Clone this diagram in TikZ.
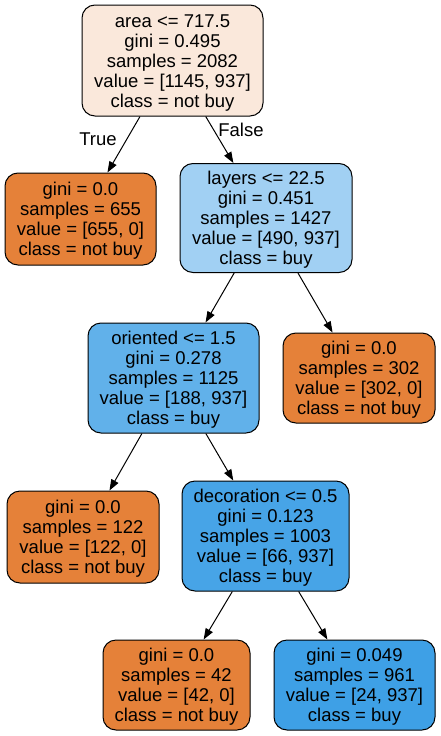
\documentclass[tikz,border=0pt]{standalone}
\usepackage{fontspec}
\setmainfont{Liberation Sans}
\usetikzlibrary{arrows.meta}
\definecolor{orng}{RGB}{229,129,57}
\definecolor{rootc}{RGB}{250,232,219}
\definecolor{layc}{RGB}{161,208,243}
\definecolor{oric}{RGB}{97,177,234}
\definecolor{decc}{RGB}{71,164,231}
\definecolor{bluec}{RGB}{62,160,230}
\newcommand\topst{\rule{0pt}{17.5pt}}
\tikzset{
  box/.style={draw=black, line width=1pt, rounded corners=13pt, align=center,
    font=\fontsize{18.5}{20}\selectfont, inner sep=0pt},
  edge/.style={draw=black, line width=1pt, -{Triangle[length=11pt,width=8pt]}},
  lbl/.style={font=\fontsize{18.5}{20}\selectfont, inner sep=0pt}
}
\begin{document}
\begin{tikzpicture}[x=1pt,y=-1pt]
\useasboundingbox[fill=white] (0,0) rectangle (440,736);
\node[box, fill=rootc, minimum width=181pt, minimum height=111pt] (root) at (172.5,60.5)
  {\topst area <= 717.5\\gini = 0.495\\samples = 2082\\value = [1145, 937]\\class = not buy};
\node[box, fill=orng, minimum width=151pt, minimum height=92pt] (l1) at (80.5,219)
  {\topst gini = 0.0\\samples = 655\\value = [655, 0]\\class = not buy};
\node[box, fill=layc, minimum width=172pt, minimum height=109pt] (lay) at (266,218)
  {\topst layers <= 22.5\\gini = 0.451\\samples = 1427\\value = [490, 937]\\class = buy};
\node[box, fill=oric, minimum width=171pt, minimum height=110pt] (ori) at (173.5,378)
  {\topst oriented <= 1.5\\gini = 0.278\\samples = 1125\\value = [188, 937]\\class = buy};
\node[box, fill=orng, minimum width=152pt, minimum height=90pt] (l302) at (359,378)
  {\topst gini = 0.0\\samples = 302\\value = [302, 0]\\class = not buy};
\node[box, fill=orng, minimum width=152pt, minimum height=92pt] (l122) at (83,537)
  {\topst gini = 0.0\\samples = 122\\value = [122, 0]\\class = not buy};
\node[box, fill=decc, minimum width=167pt, minimum height=110pt] (dec) at (265.5,536)
  {\topst decoration <= 0.5\\gini = 0.123\\samples = 1003\\value = [66, 937]\\class = buy};
\node[box, fill=orng, minimum width=147pt, minimum height=90pt] (l42) at (176.5,685)
  {\topst gini = 0.0\\samples = 42\\value = [42, 0]\\class = not buy};
\node[box, fill=bluec, minimum width=161pt, minimum height=90pt] (l961) at (354.5,685)
  {\topst gini = 0.049\\samples = 961\\value = [24, 937]\\class = buy};
\draw[edge] (root) -- (l1);
\draw[edge] (root) -- (lay);
\draw[edge] (lay) -- (ori);
\draw[edge] (lay) -- (l302);
\draw[edge] (ori) -- (l122);
\draw[edge] (ori) -- (dec);
\draw[edge] (dec) -- (l42);
\draw[edge] (dec) -- (l961);
\node[lbl] (t) at (98,139) {True};
\node[lbl] (f) at (241,130) {False};
\end{tikzpicture}
\end{document}
